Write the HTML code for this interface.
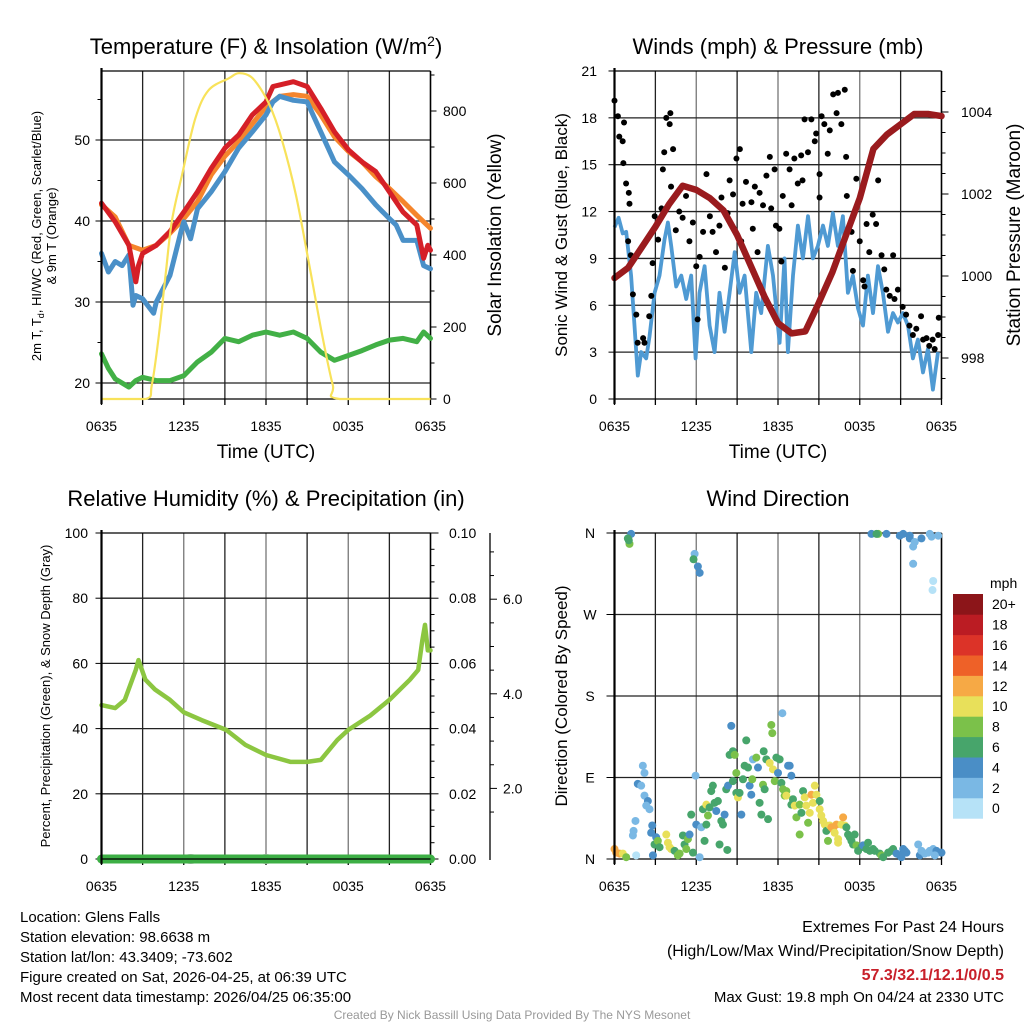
<!DOCTYPE html>
<html><head><meta charset="utf-8"><title>Glens Falls Meteogram</title>
<style>
html,body{margin:0;padding:0;background:#fff;}
svg{display:block;font-family:"Liberation Sans",Arial,sans-serif;}
</style></head>
<body>
<svg id="chart" width="1024" height="1024" viewBox="0 0 1024 1024" xmlns="http://www.w3.org/2000/svg">
<rect x="0" y="0" width="1024" height="1024" fill="#fff"/>
<g id="layer"></g>
<text x="266" y="54" font-size="22" text-anchor="middle">Temperature (F) &amp; Insolation (W/m<tspan dy="-8" font-size="14">2</tspan><tspan dy="8">)</tspan></text>
<text x="778" y="54" font-size="22" text-anchor="middle">Winds (mph) &amp; Pressure (mb)</text>
<text x="266" y="506" font-size="22" text-anchor="middle">Relative Humidity (%) &amp; Precipitation (in)</text>
<text x="778" y="506" font-size="22" text-anchor="middle">Wind Direction</text>
<text x="266" y="458" font-size="19" text-anchor="middle">Time (UTC)</text>
<text x="778" y="458" font-size="19" text-anchor="middle">Time (UTC)</text>
<text transform="translate(41,236) rotate(-90)" font-size="13" text-anchor="middle">2m T, T<tspan dy="3" font-size="9">d</tspan><tspan dy="-3">, HI/WC (Red, Green, Scarlet/Blue)</tspan></text>
<text transform="translate(56,236) rotate(-90)" font-size="13" text-anchor="middle">&amp; 9m T (Orange)</text>
<text transform="translate(501,235) rotate(-90)" font-size="19" text-anchor="middle">Solar Insolation (Yellow)</text>
<text transform="translate(567,235) rotate(-90)" font-size="17" text-anchor="middle">Sonic Wind &amp; Gust (Blue, Black)</text>
<text transform="translate(1020,235) rotate(-90)" font-size="19" text-anchor="middle">Station Pressure (Maroon)</text>
<text transform="translate(50,696) rotate(-90)" font-size="13" text-anchor="middle">Percent, Precipitation (Green), &amp; Snow Depth (Gray)</text>
<text transform="translate(567,696) rotate(-90)" font-size="17" text-anchor="middle">Direction (Colored By Speed)</text>
<g font-size="15">
<text x="20" y="922">Location: Glens Falls</text>
<text x="20" y="942">Station elevation: 98.6638 m</text>
<text x="20" y="962">Station lat/lon: 43.3409; -73.602</text>
<text x="20" y="982">Figure created on Sat, 2026-04-25, at 06:39 UTC</text>
<text x="20" y="1002">Most recent data timestamp: 2026/04/25 06:35:00</text>
</g>
<g font-size="16" text-anchor="end">
<text x="1004" y="932">Extremes For Past 24 Hours</text>
<text x="1004" y="956">(High/Low/Max Wind/Precipitation/Snow Depth)</text>
<text x="1004" y="980" fill="#c8202a" font-weight="bold">57.3/32.1/12.1/0/0.5</text>
<text x="1004" y="1002" font-size="15">Max Gust: 19.8 mph On 04/24 at 2330 UTC</text>
</g>
<text x="512" y="1019" font-size="12" fill="#999" text-anchor="middle">Created By Nick Bassill Using Data Provided By The NYS Mesonet</text>
</svg>
<script>
const xTickLabels = ['0635','1235','1835','0035','0635'];
const xTickHours = [0,6,12,18,24];
const redH = [0,1,2,2.5,2.7,3,4,5,6,7,8,9,10,11,12,12.5,13,14,15,16,17,18,19,20,21,22,23,23.5,23.8,24];
const redV = [42.2,39.9,37.0,32.5,34.5,36.0,37.0,38.7,41.1,43.6,46.5,49.0,50.6,53.1,54.7,56.6,56.8,57.2,56.6,53.9,51.0,48.8,47.3,46.1,43.6,41.1,39.5,35.4,37.0,36.4];
const orangeH = [0,1,2,3,4,5,6,7,8,9,10,11,12,13,14,15,16,17,18,19,20,21,22,23,24];
const orangeV = [42.0,40.5,37.0,36.4,37.0,38.5,40.3,42.4,45.7,48.0,49.8,52.0,54.1,55.4,55.6,55.4,53.1,50.4,48.6,47.3,45.5,44.0,42.4,40.7,39.1];
const blueH = [0,0.5,1,1.5,2,2.3,2.5,3,3.8,4,5,5.8,6,6.5,7,8,9,10,11,12,12.5,13,14,15,16,17,18,19,20,21,21.5,22,23,23.5,24];
const blueV = [36.0,33.7,35.0,34.5,35.8,29.6,30.8,30.4,28.6,30.0,33.3,38.7,39.9,37.8,41.5,43.6,46.1,49.0,51.0,53.1,54.7,55.4,54.9,54.7,51.0,47.3,45.7,44.0,42.0,40.3,39.5,37.6,37.6,34.5,34.1];
const greenH = [0,0.5,1,2,2.5,3,4,5,6,7,8,9,10,11,12,13,14,15,16,17,18,19,20,21,22,23,23.5,24];
const greenV = [23.6,21.8,20.5,19.5,20.3,20.7,20.3,20.3,20.9,22.6,23.8,25.5,25.1,25.9,26.3,25.9,26.3,25.5,23.8,22.8,23.4,24.0,24.7,25.3,25.5,25.1,26.3,25.5];
const solarH = [0,3.2,3.67,4.16,4.65,5.13,5.87,6.85,7.82,9.3,10.0,10.9,11.74,12.47,13.2,14.18,15.16,16.14,16.87,17.36,24];
const solarV = [0,0,39,169,335,493,622,780,858,891,905,895,854,798,715,567,372,169,39,0,0];
const tempTicks = [20,30,40,50];
const solarTicks = [0,200,400,600,800];

const windH = [0,0.3,0.6,0.86,1.22,1.47,1.71,1.96,2.33,2.57,2.94,3.3,3.67,3.92,4.16,4.53,4.9,5.26,5.63,5.95,6.24,6.61,6.98,7.35,7.71,8.08,8.45,8.82,9.18,9.55,10.04,10.4,10.77,11.26,11.63,12.12,12.48,12.73,13.1,13.46,13.83,14.2,14.56,14.93,15.3,15.66,16.03,16.4,16.76,17.13,17.5,17.87,18.24,18.6,18.97,19.34,19.7,20.07,20.44,20.8,21.17,21.54,21.9,22.27,22.64,23.0,23.37,23.74];
const windV = [11.0,11.6,10.6,10.7,7.9,4.7,1.5,3.0,2.6,4.0,6.8,7.9,10.2,11.3,9.8,7.2,7.9,6.4,7.9,2.6,6.8,8.5,4.7,3.0,6.8,4.3,6.8,9.4,6.8,7.9,3.0,6.8,5.5,9.8,7.9,3.6,9.0,3.0,7.9,11.1,9.0,11.7,9.0,9.8,11.1,9.8,11.9,9.8,11.7,6.8,7.9,5.8,4.7,7.9,5.5,8.5,6.8,4.3,5.5,4.9,5.5,4.7,2.6,3.8,1.7,3.2,0.6,3.0];
const gustH = [0.0,0.25,0.35,0.6,0.7,0.65,0.85,1.05,1.1,1.0,1.2,1.35,1.6,1.7,2.1,2.2,2.55,2.7,2.8,2.95,3.2,3.45,3.55,3.65,3.8,4.05,4.1,4.15,4.3,4.5,4.75,5.0,5.25,5.5,5.75,6.0,6.1,6.25,6.5,6.75,7.0,7.2,7.45,7.7,7.85,8.1,8.3,8.45,8.7,8.95,9.2,9.3,9.4,9.65,10.05,10.15,10.3,10.5,10.65,10.9,11.15,11.4,11.5,11.75,11.85,12.1,12.25,12.35,12.6,12.85,13.0,13.2,13.45,13.7,13.8,13.95,14.2,14.45,14.7,14.8,15.05,15.05,15.2,15.4,15.65,15.8,16.05,16.3,16.4,16.65,16.9,17.0,17.05,17.4,17.5,17.75,18.0,18.25,18.35,18.5,18.7,18.95,19.2,19.35,19.6,19.8,19.95,20.2,20.45,20.55,20.8,21.15,21.4,21.65,21.9,22.15,22.5,22.65,22.9,23.1,23.35,23.5,23.75,23.8];
const gustV = [19.1,18.1,16.8,16.5,17.7,15.1,13.8,13.2,12.5,10.1,9.2,6.7,5.4,3.6,3.9,3.6,5.3,6.6,8.7,11.7,10.2,12.2,14.7,15.8,18.0,17.6,18.3,13.6,16.0,10.8,12.0,11.6,13.0,10.1,11.3,8.5,5.1,9.1,10.7,14.4,11.7,10.7,9.4,11.1,12.9,8.4,11.9,14.0,13.1,15.4,16.0,10.1,12.5,13.9,12.6,10.9,13.6,9.4,13.2,12.4,14.3,15.5,12.2,14.7,11.1,10.9,8.8,13.0,15.7,14.7,12.4,15.4,13.8,15.6,14.0,17.9,15.8,17.9,16.5,17.0,14.4,12.9,18.1,17.6,15.7,17.2,19.5,18.3,19.6,17.6,19.8,15.5,13.0,10.7,8.2,14.1,10.1,7.6,7.2,11.2,9.4,11.8,11.2,14.0,9.2,8.3,7.0,6.6,9.2,6.4,7.0,5.9,5.4,4.7,4.1,4.5,5.3,3.8,3.9,3.4,3.8,3.2,4.1,5.2];
const presH = [0,1,2,3,4,5,6,7,8,9,10,11,12,13,14,15,16,17,18,19,20,21,22,23,24];
const presV = [999.95,1000.2,1000.7,1001.2,1001.75,1002.2,1002.1,1001.9,1001.6,1001.0,1000.25,999.5,998.85,998.6,998.65,999.35,1000.1,1001.0,1001.9,1003.1,1003.45,1003.7,1003.95,1003.95,1003.9];
const windTicks = [0,3,6,9,12,15,18,21];
const presTicks = [998,1000,1002,1004];

const rhH = [0,1,1.7,2.5,2.7,3.2,3.9,5,6,7.3,9.1,10.5,12,13.8,15,16,17.2,18,19.6,21,22.5,23.1,23.4,23.6,23.8,24];
const rhV = [47.2,46.3,48.8,58,61,55,52,48.8,45,42.6,39.6,35,31.9,29.8,29.8,30.4,36.5,39.6,44,48.8,55,58,67,71.8,64,64];
const precipH = [0,24];
const precipV = [0,0];
const snowH = [6.5,12];
const snowV = [0,0];
const rhTicks = [0,20,40,60,80,100];
const precipTickLabels = ['0.00','0.02','0.04','0.06','0.08','0.10'];
const snowTickLabels = ['2.0','4.0','6.0'];

const dirH = [1.22,0.98,1.1,1.05,5.88,5.8,6.12,6.25,18.86,19.35,19.23,19.96,20.94,21.19,21.67,21.67,22.04,21.92,22.53,23.14,23.27,23.76,21.92,23.39,23.34,0.0,0.12,0.37,0.61,0.86,1.59,2.08,2.2,1.71,1.96,2.2,2.45,2.57,2.33,1.54,1.4,1.35,2.77,2.69,3.06,2.82,2.94,3.18,3.31,3.8,3.92,4.04,4.16,4.41,4.65,4.78,5.02,5.14,5.27,5.39,5.51,5.76,6.25,5.95,6.0,6.37,5.63,6.49,6.61,6.74,6.86,6.74,6.98,7.1,7.22,7.35,7.47,7.59,7.71,7.84,7.96,8.08,8.2,8.33,8.28,8.57,8.45,8.69,8.82,8.94,8.69,8.94,9.06,9.18,9.31,9.43,9.55,9.67,9.8,9.92,10.04,10.11,10.16,10.41,10.53,10.65,10.78,10.9,10.95,11.02,11.14,11.27,11.39,11.51,11.58,11.63,11.76,11.88,12.0,12.12,12.25,12.32,12.37,12.49,12.61,12.74,12.86,12.98,12.61,12.98,13.1,13.23,13.35,13.59,13.59,13.72,13.84,13.96,14.08,14.21,14.33,14.45,14.57,14.7,14.82,15.06,15.06,15.18,15.31,15.43,15.55,15.67,15.8,15.92,16.04,16.16,16.29,16.41,16.41,16.65,16.78,16.9,17.02,17.14,17.27,17.39,17.51,17.63,17.76,17.88,18.12,18.25,18.49,18.61,18.74,18.98,19.1,19.47,19.59,19.72,20.08,20.33,20.45,20.7,20.94,21.06,21.19,21.31,21.43,22.29,22.41,22.53,22.78,23.02,23.14,23.39,23.63,24.0,23.51];
const dirDeg = [359,354,348,352,337,331,323,316,359,359,359,359,357,359,357,354,350,345,354,359,356,357,326,307,297,11,7,6,6,2,4,103,95,83,81,70,64,55,59,42,31,26,37,29,24,4,16,20,13,27,18,13,11,9,4,6,26,16,11,22,27,7,2,92,38,35,49,55,20,60,48,38,57,75,81,62,53,64,16,42,38,49,77,81,10,147,115,119,115,95,86,73,68,73,49,88,103,131,101,81,71,88,110,112,101,62,49,82,119,77,110,44,106,148,139,99,86,112,95,110,84,161,77,70,75,103,103,92,70,60,66,59,46,60,27,51,75,68,59,40,51,71,62,81,71,64,55,48,42,38,31,20,37,35,33,29,38,22,18,38,46,37,35,27,24,20,16,27,15,9,13,15,11,18,9,11,9,6,4,2,7,9,11,6,4,2,11,9,7,16,4,9,6,7,9,11,9,7,4];
const dirSpd = [5,7,9,7,3,7,5,5,5,9,7,5,5,5,5,5,3,3,5,3,3,3,3,1,1,13,13,13,11,9,1,3,3,5,3,3,5,3,3,3,3,3,5,5,5,5,7,9,7,11,11,11,11,7,9,9,7,7,9,9,5,7,3,3,5,3,7,7,7,11,9,7,7,7,7,7,5,7,7,7,7,5,7,5,7,5,7,7,9,9,7,7,11,7,5,7,7,7,7,5,5,9,3,9,5,7,7,9,7,7,7,7,11,9,9,11,9,7,5,7,7,3,9,9,9,5,5,5,11,7,7,11,9,9,9,7,7,11,11,9,11,13,11,11,11,7,11,11,11,11,7,9,11,13,13,11,13,11,11,11,13,11,7,7,7,7,7,7,9,7,7,5,7,7,7,7,7,7,9,7,7,7,7,5,5,5,5,5,5,3,5,3,3,3,3,3,5,5,3];
const dirTickLabels = ['N','E','S','W','N'];
const dirTickDeg = [0,90,180,270,360];
const speedBinLabels = ['0','2','4','6','8','10','12','14','16','18','20+'];
const speedBinColors = ['#b6e2f7','#7ab8e4','#4a8ec6','#47a56b','#7bc14a','#e8e05a','#f6a945','#ee6128','#dc3328','#bb1c23','#8c1519'];

const NS = 'http://www.w3.org/2000/svg';
const layer = document.getElementById('layer');
function mk(tag, attrs, parent) {
  const e = document.createElementNS(NS, tag);
  for (const k in attrs) e.setAttribute(k, attrs[k]);
  (parent || layer).appendChild(e);
  return e;
}
function txt(x, y, s, size, anchor, parent) {
  const t = mk('text', {x: x, y: y, 'font-size': size, 'text-anchor': anchor || 'middle'}, parent);
  t.textContent = s;
  return t;
}
function pathFrom(hArr, vArr, xf, yf) {
  let d = '';
  for (let i = 0; i < hArr.length; i++) d += (i ? 'L' : 'M') + xf(hArr[i]).toFixed(1) + ',' + yf(vArr[i]).toFixed(1);
  return d;
}
function smoothFrom(hArr, vArr, xf, yf) {
  const p = hArr.map((h, i) => [xf(h), yf(vArr[i])]);
  let d = 'M' + p[0][0].toFixed(1) + ',' + p[0][1].toFixed(1);
  for (let i = 0; i < p.length - 1; i++) {
    const p0 = p[Math.max(0, i - 1)], p1 = p[i], p2 = p[i + 1], p3 = p[Math.min(p.length - 1, i + 2)];
    const c1 = [p1[0] + (p2[0] - p0[0]) / 6, p1[1] + (p2[1] - p0[1]) / 6];
    const c2 = [p2[0] - (p3[0] - p1[0]) / 6, p2[1] - (p3[1] - p1[1]) / 6];
    d += 'C' + c1[0].toFixed(1) + ',' + Math.min(399, c1[1]).toFixed(1) + ' ' + c2[0].toFixed(1) + ',' + Math.min(399, c2[1]).toFixed(1) + ' ' + p2[0].toFixed(1) + ',' + p2[1].toFixed(1);
  }
  return d;
}

const P1 = {x0: 101.5, x1: 430.5, y0: 71, y1: 399};
const P2 = {x0: 614.5, x1: 941.5, y0: 71, y1: 399};
const P3 = {x0: 101.5, x1: 430.5, y0: 533, y1: 859};
const P4 = {x0: 614.5, x1: 941.5, y0: 533, y1: 859};
function xScale(P) { return h => P.x0 + h / 24 * (P.x1 - P.x0); }
const x1f = xScale(P1), x2f = xScale(P2), x3f = xScale(P3), x4f = xScale(P4);
const tempY = t => 383 - (t - 20) * 8.1;
const solarY = w => 399 - w * 0.36;
const windY = v => 399 - v * 15.62;
const presY = p => 358 - (p - 998) * 41;
const rhY = v => 859 - v * 3.26;
const precipY = v => 859 - v * 3260;
const dirY = d => 859 - d / 360 * 326;

function frame(P, name, hGridVals, yf, xf) {
  const g = mk('g', {});
  
  
  for (let h = 3; h < 24; h += 3) {
    mk('line', {x1: xf(h), x2: xf(h), y1: P.y0, y2: P.y1, stroke: (h % 6 === 0) ? '#777' : '#222', 'stroke-width': 1.3}, g);
  }
  hGridVals.forEach(v => {
    const y = yf(v);
    if (y > P.y0 + 1 && y < P.y1 - 1) mk('line', {x1: P.x0, x2: P.x1, y1: y, y2: y, stroke: '#222', 'stroke-width': 1.3}, g);
  });
  mk('line', {x1: P.x0, x2: P.x1, y1: P.y0, y2: P.y0, stroke: '#000', 'stroke-width': 1.3}, g);
  mk('line', {x1: P.x0, x2: P.x1, y1: P.y1, y2: P.y1, stroke: '#000', 'stroke-width': 1.3}, g);
  mk('line', {x1: P.x1, x2: P.x1, y1: P.y0, y2: P.y1, stroke: '#000', 'stroke-width': 1.6}, g);
  for (let h = 0; h <= 24; h += 3) mk('line', {x1: xf(h), x2: xf(h), y1: P.y1, y2: P.y1 + 6, stroke: '#000', 'stroke-width': 1.3}, g);
  const lab = mk('g', {});
  
  
  xTickHours.forEach((h, i) => txt(xf(h), P.y1 + 32, xTickLabels[i], 14, 'middle', lab));
}
function leftAxis(P, name) {
  const a = mk('line', {x1: P.x0, x2: P.x0, y1: P.y0 - 3, y2: P.y1 + 5, stroke: '#000', 'stroke-width': 2.2});
  
  
}

// Panel 1
frame(P1, 'temperature', tempTicks, tempY, x1f);
const tl = mk('g', {});


tempTicks.forEach(t => { txt(90, tempY(t) + 5, String(t), 14, 'end', tl); mk('line', {x1: P1.x0 - 6, x2: P1.x0, y1: tempY(t), y2: tempY(t), stroke: '#000'}, tl); mk('line', {x1: P1.x0 - 4, x2: P1.x0, y1: tempY(t + 5), y2: tempY(t + 5), stroke: '#000'}, tl); });
const sl = mk('g', {});


solarTicks.forEach(w => { txt(443, solarY(w) + 5, String(w), 14, 'start', sl); mk('line', {x1: P1.x1, x2: P1.x1 + 6, y1: solarY(w), y2: solarY(w), stroke: '#000'}, sl); mk('line', {x1: P1.x1, x2: P1.x1 + 4, y1: solarY(w + 100), y2: solarY(w + 100), stroke: '#000'}, sl); });
let e;
e = mk('path', {d: pathFrom(greenH, greenV, x1f, tempY), fill: 'none', stroke: '#42b046', 'stroke-width': 5, 'stroke-linejoin': 'round', 'stroke-linecap': 'round'});


e = mk('path', {d: pathFrom(orangeH, orangeV, x1f, tempY), fill: 'none', stroke: '#f5852c', 'stroke-width': 5, 'stroke-linejoin': 'round', 'stroke-linecap': 'round'});


e = mk('path', {d: pathFrom(blueH, blueV, x1f, tempY), fill: 'none', stroke: '#4a90c8', 'stroke-width': 5, 'stroke-linejoin': 'round', 'stroke-linecap': 'round'});


e = mk('path', {d: pathFrom(redH, redV, x1f, tempY), fill: 'none', stroke: '#d51f27', 'stroke-width': 5, 'stroke-linejoin': 'round', 'stroke-linecap': 'round'});


e = mk('path', {d: smoothFrom(solarH, solarV, x1f, solarY), fill: 'none', stroke: '#f8e25a', 'stroke-width': 2.2, 'stroke-linejoin': 'round'});


leftAxis(P1, 'temperature');

// Panel 2
frame(P2, 'winds', windTicks, windY, x2f);
const wl = mk('g', {});


windTicks.forEach(v => { txt(597, windY(v) + 5, String(v), 14, 'end', wl); mk('line', {x1: P2.x0 - 6, x2: P2.x0, y1: windY(v), y2: windY(v), stroke: '#000'}, wl); });
const pl = mk('g', {});


presTicks.forEach(p => { txt(961, presY(p) + 5, String(p), 14, 'start', pl); mk('line', {x1: P2.x1, x2: P2.x1 + 7, y1: presY(p), y2: presY(p), stroke: '#000'}, pl); });
[997.5,998.5,999,999.5,1000.5,1001,1001.5,1002.5,1003,1003.5,1004.5].forEach(p => mk('line', {x1: P2.x1, x2: P2.x1 + 4, y1: presY(p), y2: presY(p), stroke: '#000'}, pl));
e = mk('path', {d: pathFrom(windH, windV, x2f, windY), fill: 'none', stroke: '#4f9ad3', 'stroke-width': 3.8, 'stroke-linejoin': 'round'});


const gg = mk('g', {});


gustH.forEach((h, i) => {
  const c = mk('circle', {cx: x2f(h), cy: windY(gustV[i]), r: 3, fill: '#000'}, gg);
  
  
});
e = mk('path', {d: pathFrom(presH, presV, x2f, presY), fill: 'none', stroke: '#9a1b1e', 'stroke-width': 6.5, 'stroke-linejoin': 'round', 'stroke-linecap': 'round'});


leftAxis(P2, 'winds');

// Panel 3
frame(P3, 'humidity', rhTicks, rhY, x3f);
const rl = mk('g', {});


rhTicks.forEach((v, i) => {
  txt(88, rhY(v) + 5, String(v), 14, 'end', rl);
  txt(449, rhY(v) + 5, precipTickLabels[i], 14, 'start', rl);
  mk('line', {x1: P3.x0 - 6, x2: P3.x0, y1: rhY(v), y2: rhY(v), stroke: '#000'}, rl);
  mk('line', {x1: P3.x1, x2: P3.x1 + 8, y1: rhY(v), y2: rhY(v), stroke: '#000'}, rl);
  if (v < 100) for (let k = 1; k < 4; k++) mk('line', {x1: P3.x1, x2: P3.x1 + 4, y1: rhY(v + k * 5), y2: rhY(v + k * 5), stroke: '#000'}, rl);
});
const sa = mk('g', {});


mk('line', {x1: 490, x2: 490, y1: 533, y2: 860, stroke: '#000', 'stroke-width': 1.3}, sa);
const snowY = v => 883 - v * 47.3;
snowTickLabels.forEach(s => { const v = parseFloat(s); mk('line', {x1: 490, x2: 497, y1: snowY(v), y2: snowY(v), stroke: '#000'}, sa); txt(503, snowY(v) + 5, s, 14, 'start', sa); });
[1.5,2.5,3,3.5,4.5,5,5.5,6.5,7].forEach(v => mk('line', {x1: 490, x2: 494, y1: snowY(v), y2: snowY(v), stroke: '#000'}, sa));
e = mk('path', {d: pathFrom(rhH, rhV, x3f, rhY), fill: 'none', stroke: '#8cc641', 'stroke-width': 4.5, 'stroke-linejoin': 'round', 'stroke-linecap': 'round'});


snowH.forEach((h, i) => {
  const c = mk('ellipse', {cx: x3f(h), cy: precipY(snowV[i]), rx: 8, ry: 5, fill: '#bbb'});
  
  
});
e = mk('path', {d: pathFrom(precipH, precipV, x3f, precipY), fill: 'none', stroke: '#3daf45', 'stroke-width': 9, 'stroke-linecap': 'round'});


mk('line', {x1: P3.x0, x2: P3.x1, y1: P3.y1, y2: P3.y1, stroke: '#000', 'stroke-width': 1.3});
leftAxis(P3, 'humidity');

// Panel 4
frame(P4, 'direction', dirTickDeg, dirY, x4f);
const dl = mk('g', {});


dirTickDeg.forEach((d, i) => { txt(590, dirY(d) + 5, dirTickLabels[i], 14, 'middle', dl); mk('line', {x1: P4.x0 - 8, x2: P4.x0, y1: dirY(d), y2: dirY(d), stroke: '#000'}, dl); });
function speedColor(s) { return speedBinColors[Math.min(10, Math.floor(s / 2))]; }
const dg = mk('g', {});


dirH.forEach((h, i) => {
  const c = mk('circle', {cx: x4f(h), cy: dirY(dirDeg[i]), r: 4, fill: speedColor(dirSpd[i])}, dg);
  
  
});
leftAxis(P4, 'direction');

const cb = mk('g', {});


const cbTop = 594, cbH = 20.4;
txt(990, 588, 'mph', 14, 'start', cb);
speedBinLabels.forEach((lab, i) => {
  const j = 10 - i;
  const r = mk('rect', {x: 953, y: cbTop + j * cbH, width: 30, height: cbH + 0.3, fill: speedBinColors[i]}, cb);
  
  
  txt(992, cbTop + j * cbH + cbH / 2 + 5, lab, 14, 'start', cb);
});
</script>
</body></html>
